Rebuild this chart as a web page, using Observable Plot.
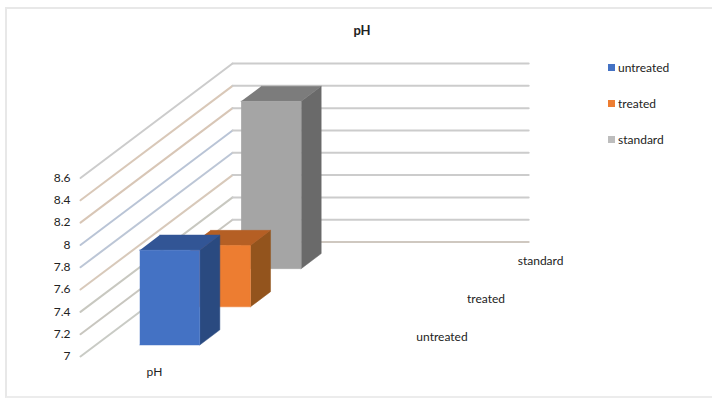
<!DOCTYPE html>
<html>
<head>
<meta charset="utf-8">
<script src="https://cdn.jsdelivr.net/npm/d3@7"></script>
<script src="https://cdn.jsdelivr.net/npm/@observablehq/plot@0.6"></script>
<style>
  html, body { margin: 0; padding: 0; background: #fff; }
  body { width: 712px; height: 398px; position: relative; overflow: hidden; font-family: Lato, "Open Sans", sans-serif; color: #222; }
  #frame { position: absolute; left: 5px; top: 7px; width: 707px; height: 391px; border-left: 2px solid #e8e8e8; border-top: 2px solid #e8e8e8; border-bottom: 2px solid #ececec; box-sizing: border-box; }
  #chart { position: absolute; left: 0; top: 0; }
  #title { position: absolute; left: 262px; width: 200px; top: 22px; text-align: center; font-size: 13px; font-weight: 700; line-height: 16px; }
  #legend { position: absolute; left: 608px; top: 60px; font-size: 12px; }
  #legend div { position: absolute; left: 0; white-space: nowrap; line-height: 16px; height: 16px; }
  #legend i { position: absolute; left: 0; top: 4px; width: 7px; height: 7px; }
  #legend span { position: absolute; left: 10px; top: 0; }
</style>
</head>
<body>
<div id="frame"></div>
<div id="chart"></div>
<div id="title">pH</div>
<div id="legend"></div>
<script>
// pH readings for each sample, with one group along the horizontal axis
const categories = ["untreated", "treated", "standard"];
const values = [7.85, 7.55, 8.5];
const group = "pH";
const valueTicks = [7, 7.2, 7.4, 7.6, 7.8, 8, 8.2, 8.4, 8.6];

const faceColors = {
  untreated: {front: "#4472c4", top: "#325595", side: "#2a4a80", key: "#4472c4"},
  treated: {front: "#ed7d31", top: "#b55f24", side: "#93541d", key: "#ed7d31"},
  standard: {front: "#a5a5a5", top: "#7c7c7c", side: "#6a6a6a", key: "#bdbdbd"}
};
const wallTints = ["#c9cbc5", "#c8c6bf", "#c8c8c0", "#d8c9ba", "#bcc6d6", "#b9c4d6", "#d8c6b6", "#d9c8b8", "#cccccc"];

// Oblique projection: depth shifts a point right and up in axis units
const depthX = 0.512, depthY = 1.026;
const project = (u, v, d) => ({x: u + d * depthX, y: v + d * depthY});

// Box proportions in axis units
const barLeft = 0.148, barWidth = 0.202, barDepth = 0.132;
const slot = 1 / categories.length;
const base = valueTicks[0];

const polygon = (color, corners) =>
  Plot.line(corners.map(([u, v, d]) => project(u, v, d)), {x: "x", y: "y", fill: color, stroke: color, strokeWidth: 0.5, curve: "linear"});

// Boxes are painted from the back of the chart to the front
const barMarks = categories.map((name, i) => ({name, i, value: values[i]})).reverse().flatMap(({name, i, value}) => {
  const c = faceColors[name];
  const d0 = i * slot + (slot - barDepth) / 2, d1 = d0 + barDepth;
  const u0 = barLeft, u1 = barLeft + barWidth;
  return [
    polygon(c.side, [[u1, base, d0], [u1, base, d1], [u1, value, d1], [u1, value, d0]]),
    polygon(c.top, [[u0, value, d0], [u1, value, d0], [u1, value, d1], [u0, value, d1]]),
    polygon(c.front, [[u0, base, d0], [u1, base, d0], [u1, value, d0], [u0, value, d0]])
  ];
});

const gridMarks = valueTicks.flatMap((v, i) => [
  Plot.line([project(0, v, 0), project(0, v, 1)], {x: "x", y: "y", stroke: wallTints[i], strokeWidth: 2}),
  Plot.line([project(0, v, 1), project(0.997, v, 1)], {x: "x", y: "y", stroke: i === 0 ? "#cfc8c0" : "#cccccc", strokeWidth: 2})
]);

const labelFont = {fontSize: 12, fill: "#222"};

const chart = Plot.plot({
  width: 712,
  height: 398,
  margin: 0,
  style: {fontFamily: "Lato, 'Open Sans', sans-serif", background: "transparent"},
  x: {domain: [0, 1], range: [80, 377], axis: null},
  y: {domain: [7, 8.6], range: [356, 177.5], axis: null},
  marks: [
    ...gridMarks,
    ...barMarks,
    Plot.text(valueTicks, {x: () => 0, y: d => d, text: d => String(d), textAnchor: "end", dx: -10, ...labelFont}),
    Plot.text(categories.map((name, i) => ({name, ...project(1, base, (i + 0.5) * slot)})),
      {x: "x", y: "y", text: "name", textAnchor: "start", dx: 13.5, ...labelFont}),
    Plot.text([group], {x: () => barLeft + barWidth / 2, y: () => base, text: d => d, dy: 16, ...labelFont})
  ]
});
document.getElementById("chart").append(chart);

// Key on the right, one row per sample
const legend = d3.select("#legend");
const legendTops = [0, 36, 72];
categories.forEach((name, i) => {
  const row = legend.append("div").style("top", legendTops[i] + "px");
  row.append("i").style("background", faceColors[name].key);
  row.append("span").text(name);
});
</script>
</body>
</html>
